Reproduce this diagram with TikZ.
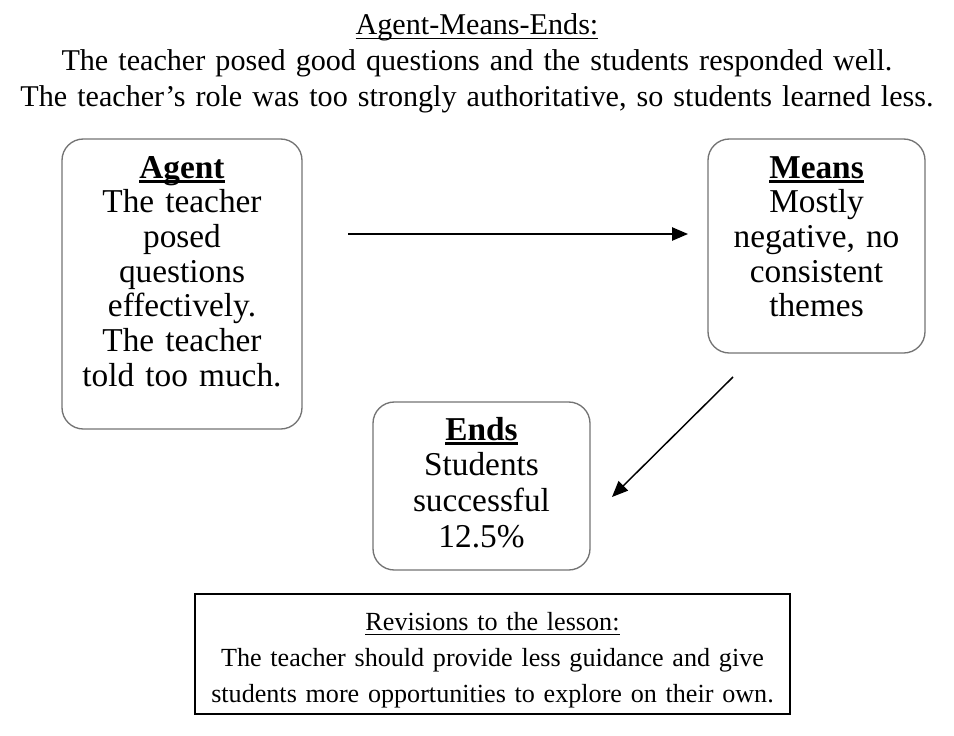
\documentclass[tikz,border=0pt]{standalone}
\usepackage{fontspec}
\setmainfont{Liberation Serif}
\usepackage{tikz}
\usetikzlibrary{arrows.meta}
\usetikzlibrary{fit}
\definecolor{boxgray}{gray}{0.45}
\newcommand{\ameul}[2][0.9pt]{\setbox0\hbox{#2}\leavevmode\rlap{\copy0}\raisebox{-3.6pt}{\rule{\wd0}{#1}}}

\begin{document}
\begin{tikzpicture}[
  x=0.75pt, y=-0.75pt,
  txt/.style={anchor=base,align=center,inner sep=0pt,font=\fontsize{22.6}{27}\selectfont},
  boxtxt/.style={txt,font=\fontsize{25}{26}\selectfont},
  rbox/.style={draw=boxgray,line width=1pt,rounded corners=16pt,inner sep=0pt},
  sbox/.style={draw=black,line width=1.1pt,inner sep=0pt},
  link/.style={line width=1.1pt,-{Triangle[length=12pt,width=10pt]}}
]
\useasboundingbox (0,0) rectangle (954,736);

\node[txt,text width=710pt] (title) at (477,34)
  {\ameul{Agent-Means-Ends:}\\
   The teacher posed good questions and the students responded well.\\
   The teacher’s role was too strongly authoritative, so students learned less.};

\node[rbox,fit={(62,139) (302,429)}] (agent) {};
\node[rbox,fit={(708,139) (925,353)}] (means) {};
\node[rbox,fit={(373,402) (590,570)}] (ends) {};
\node[sbox,fit={(195,594) (790,714)}] (revisions) {};

\node[boxtxt,text width=178pt] (agenttext) at (182,178)
  {\ameul[2pt]{\textbf{Agent}}\\The teacher\\posed\\questions\\effectively.\\The teacher\\told too much.};
\node[boxtxt,text width=160pt] (meanstext) at (816.5,178)
  {\ameul[2pt]{\textbf{Means}}\\Mostly\\negative, no\\consistent\\themes};
\node[boxtxt,text width=160pt,font=\fontsize{25}{26.8}\selectfont] (endstext) at (481.5,440)
  {\ameul[2pt]{\textbf{Ends}}\\Students\\successful\\12.5\%};
\node[txt,text width=440pt,font=\fontsize{19.6}{27}\selectfont] (revisionstext) at (492.5,630)
  {\ameul{Revisions to the lesson:}\\
   The teacher should provide less guidance and give\\
   students more opportunities to explore on their own.};

\coordinate (amstart) at (348,234);
\coordinate (amend) at (688,234);
\coordinate (mestart) at (733,377);
\coordinate (meend) at (612,497);
\draw[link] (amstart) -- (amend);
\draw[link] (mestart) -- (meend);
\end{tikzpicture}
\end{document}
